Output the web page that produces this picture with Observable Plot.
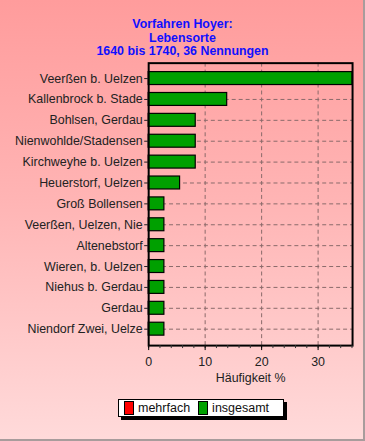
<!DOCTYPE html>
<html>
<head>
<meta charset="utf-8">
<script src="https://cdn.jsdelivr.net/npm/d3@7"></script>
<script src="https://cdn.jsdelivr.net/npm/@observablehq/plot@0.6"></script>
<style>
  html, body { margin: 0; padding: 0; }
  #wrap {
    position: relative; width: 365px; height: 441px; box-sizing: border-box;
    background: linear-gradient(to bottom, #ff9c9c 0%, #ffb4b4 45%, #ffdada 100%);
    border-right: 2px solid #a89c9c; border-bottom: 2px solid #a89c9c;
    font-family: "Liberation Sans", Arial, sans-serif; overflow: hidden;
  }
  #title {
    position: absolute; left: 0; width: 365px; top: 18px; text-align: center;
    color: #1010ff; font-weight: bold; font-size: 12.4px; line-height: 13.6px;
  }
  #chart { position: absolute; left: 0; top: 0; }
  #legend {
    position: absolute; left: 118px; top: 399px; width: 166px; height: 18px;
    background: #fff; border: 1px solid #000; box-shadow: 3px 3px 0 #000;
    font-size: 12.5px; color: #111; display: flex; align-items: center; box-sizing: border-box;
  }
  .sw { display: inline-block; width: 8px; height: 12px; border: 1px solid #000; margin: 0 4px 0 5px; }
</style>
</head>
<body>
<div id="wrap">
  <div id="chart"></div>
  <div id="title">Vorfahren Hoyer:<br>Lebensorte<br>1640 bis 1740, 36 Nennungen</div>
  <div id="legend">
    <span class="sw" style="background:#ff0000"></span><span>mehrfach</span>
    <span class="sw" style="background:#00a000;margin-left:8px"></span><span>insgesamt</span>
  </div>
</div>
<script>
const places = [
  "Veerßen b. Uelzen",
  "Kallenbrock b. Stade",
  "Bohlsen, Gerdau",
  "Nienwohlde/Stadensen",
  "Kirchweyhe b. Uelzen",
  "Heuerstorf, Uelzen",
  "Groß Bollensen",
  "Veerßen, Uelzen, Nie",
  "Altenebstorf",
  "Wieren, b. Uelzen",
  "Niehus b. Gerdau",
  "Gerdau",
  "Niendorf Zwei, Uelze"
];
const percent = [36.1, 13.9, 8.33, 8.33, 8.33, 5.56, 2.78, 2.78, 2.78, 2.78, 2.78, 2.78, 2.78];
const majorTicks = [0, 10, 20, 30];
const minorTicks = [0, 2, 4, 6, 8, 10, 12, 14, 16, 18, 20, 22, 24, 26, 28, 30, 32, 34, 36];
const gridTicks = [10, 20, 30];
const xLabel = "Häufigkeit %";

const data = places.map((p, i) => ({place: p, value: percent[i]}));

const chart = Plot.plot({
  width: 365,
  height: 441,
  marginLeft: 149,
  marginRight: 11,
  marginTop: 63,
  marginBottom: 94,
  style: {background: "transparent", fontSize: "12.5px", fontFamily: "'Liberation Sans', Arial, sans-serif", color: "#222"},
  x: {domain: [0, 36.1]},
  y: {domain: places, paddingInner: 0.38, paddingOuter: 0.2},
  marks: [
    Plot.gridX(gridTicks, {stroke: "#8a6a6a", strokeOpacity: 1, strokeDasharray: "4,3"}),
    Plot.gridY(places, {stroke: "#8a6a6a", strokeOpacity: 1, strokeDasharray: "4,3"}),
    Plot.barX(data, {x: "value", y: "place", fill: "#00a000", stroke: "#000", strokeWidth: 1.2}),
    Plot.frame({stroke: "#000", strokeWidth: 2}),
    Plot.axisX(minorTicks, {tickSize: 3, text: null, stroke: "#333", label: null}),
    Plot.axisX(majorTicks, {tickSize: 5, tickPadding: 7, stroke: "#000", fill: "#222", label: xLabel, labelAnchor: "center", labelArrow: "none", labelOffset: 37}),
    Plot.axisY({tickSize: 4, tickPadding: 2, label: null, fill: "#222"})
  ]
});
document.getElementById("chart").appendChild(chart);
</script>
</body>
</html>
